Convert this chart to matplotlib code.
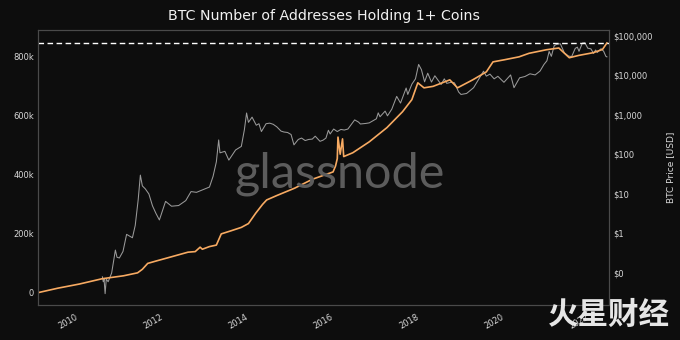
import numpy as np
import pandas as pd
import matplotlib
matplotlib.use("Agg")
import matplotlib.pyplot as plt
import matplotlib.dates as mdates
from matplotlib.ticker import FixedLocator, FuncFormatter

# addresses holding at least one BTC
addr_dates = ["2009-01-03", "2009-07-01", "2010-01-01", "2010-07-15", "2011-01-15",
              "2011-05-15", "2011-06-25", "2011-08-10", "2011-10-20", "2012-01-20",
              "2012-04-20", "2012-07-20", "2012-09-20", "2012-11-01", "2012-11-20",
              "2013-01-20", "2013-03-20", "2013-05-01", "2013-07-20", "2013-10-20",
              "2013-12-20", "2014-02-20", "2014-04-20", "2014-05-25", "2014-08-20",
              "2015-01-20", "2015-06-20", "2015-12-15", "2016-01-05", "2016-01-20",
              "2016-01-26", "2016-02-14", "2016-03-05", "2016-03-15", "2016-06-01",
              "2016-10-20", "2017-03-20", "2017-08-01", "2017-10-20",
              "2017-12-10", "2018-02-01", "2018-04-20", "2018-09-10", "2018-11-15",
              "2019-03-25", "2019-07-20", "2019-09-15", "2019-12-20", "2020-04-25",
              "2020-07-20", "2020-12-15", "2021-04-01", "2021-06-30", "2021-09-20",
              "2022-01-20", "2022-04-10", "2022-05-18"]
addr_count = [0, 16000, 30000, 48000, 58000,
              68000, 80000, 100000, 108000, 118000,
              128000, 138000, 140000, 155000, 148000,
              157000, 162000, 200000, 210000, 222000,
              235000, 270000, 300000, 315000, 330000,
              355000, 385000, 410000, 430000, 455000,
              528000, 470000, 522000, 462000, 475000,
              512000, 560000, 614000, 655000,
              712000, 695000, 700000, 722000, 695000,
              722000, 749000, 783000, 790000, 800000,
              812000, 824000, 830000, 797000, 805000,
              814000, 825000, 847000]

# BTC price in USD
price_dates = ["2010-07-18", "2010-07-25", "2010-08-01", "2010-08-10", "2010-08-20",
               "2010-09-05", "2010-10-05", "2010-11-06", "2010-11-20", "2010-12-10",
               "2011-01-10", "2011-02-10", "2011-03-10", "2011-04-01", "2011-04-25",
               "2011-05-20", "2011-06-08", "2011-06-25", "2011-07-20", "2011-08-20",
               "2011-09-20", "2011-10-20", "2011-11-18", "2012-01-10", "2012-03-01",
               "2012-05-01", "2012-07-01", "2012-08-15", "2012-10-01", "2012-12-01",
               "2013-01-20", "2013-02-20", "2013-03-20", "2013-04-09", "2013-04-20",
               "2013-06-01", "2013-07-05", "2013-09-01", "2013-10-20", "2013-11-15",
               "2013-12-04", "2013-12-20", "2014-01-20", "2014-02-25", "2014-03-20",
               "2014-04-10", "2014-05-20", "2014-06-20", "2014-07-20", "2014-08-20",
               "2014-09-25", "2014-10-20", "2014-11-20", "2014-12-20",
               "2015-01-14", "2015-02-20", "2015-03-20", "2015-04-20", "2015-05-20",
               "2015-06-20", "2015-07-15", "2015-08-25", "2015-09-20", "2015-10-15",
               "2015-11-05", "2015-11-20", "2015-12-20", "2016-01-20", "2016-02-20",
               "2016-03-20", "2016-04-20", "2016-06-17", "2016-07-20", "2016-08-05",
               "2016-09-20", "2016-10-20", "2016-12-20",
               "2017-01-05", "2017-01-20", "2017-03-05", "2017-03-25", "2017-05-01",
               "2017-06-12", "2017-07-15", "2017-09-01", "2017-09-15", "2017-10-20",
               "2017-11-20", "2017-12-17", "2018-01-10", "2018-02-06", "2018-03-05",
               "2018-04-06", "2018-05-05", "2018-06-28", "2018-07-25", "2018-08-15",
               "2018-09-20", "2018-10-20", "2018-11-25", "2018-12-15", "2019-02-01",
               "2019-04-02", "2019-05-15", "2019-06-26", "2019-07-20", "2019-08-20",
               "2019-09-25", "2019-10-27", "2019-12-18", "2020-02-13", "2020-03-13",
               "2020-04-30", "2020-06-15", "2020-07-28", "2020-09-10", "2020-10-22",
               "2020-11-25", "2020-12-20", "2021-01-08", "2021-01-27", "2021-02-21",
               "2021-03-13", "2021-04-14", "2021-05-19", "2021-06-22", "2021-07-20",
               "2021-08-20", "2021-09-07", "2021-09-21", "2021-10-20", "2021-11-10",
               "2021-12-05", "2022-01-01", "2022-01-24", "2022-02-10", "2022-02-24",
               "2022-03-29", "2022-04-20", "2022-05-09", "2022-05-18"]
price_usd = [0.08, 0.06, 0.07, 0.03, 0.07,
             0.06, 0.10, 0.38, 0.25, 0.24,
             0.35, 0.95, 0.85, 0.78, 1.60,
             7.0, 30.0, 16.0, 13.5, 10.0,
             5.0, 3.2, 2.2, 6.5, 4.9,
             5.1, 6.8, 11.5, 11.0, 13.0,
             15.0, 28.0, 65.0, 233.0, 110.0,
             120.0, 72.0, 130.0, 160.0, 420.0,
             1120.0, 650.0, 880.0, 550.0, 600.0,
             380.0, 600.0, 620.0, 580.0, 500.0,
             390.0, 370.0, 360.0, 320.0,
             175.0, 240.0, 260.0, 225.0, 240.0,
             245.0, 290.0, 215.0, 230.0, 260.0,
             410.0, 330.0, 440.0, 380.0, 430.0,
             415.0, 440.0, 750.0, 660.0, 590.0,
             610.0, 630.0, 800.0,
             1130.0, 900.0, 1250.0, 950.0, 1400.0,
             2950.0, 2000.0, 4800.0, 3300.0, 6000.0,
             8200.0, 19000.0, 14000.0, 6900.0, 11400.0,
             6800.0, 9800.0, 5900.0, 8200.0, 6300.0,
             6700.0, 6500.0, 3800.0, 3300.0, 3500.0,
             4900.0, 8000.0, 12800.0, 9600.0, 10800.0,
             8200.0, 9500.0, 6700.0, 10300.0, 4900.0,
             8700.0, 9400.0, 11000.0, 10300.0, 12900.0,
             19000.0, 23500.0, 40500.0, 30400.0, 57000.0,
             61000.0, 63500.0, 37000.0, 31000.0, 30000.0,
             48500.0, 52000.0, 40800.0, 66000.0, 67500.0,
             49000.0, 47000.0, 36000.0, 44000.0, 38000.0,
             47500.0, 41000.0, 30500.0, 29500.0]

addr_ath = max(addr_count)

bg = "#0d0d0d"
fig = plt.figure(figsize=(6.8, 3.4), dpi=100, facecolor=bg)
ax = fig.add_axes([38 / 680, 35 / 340, 571 / 680, 275 / 340])
ax2 = ax.twinx()
ax.set_zorder(ax2.get_zorder() + 1)
ax.patch.set_visible(False)
ax2.set_facecolor(bg)

x_addr = pd.to_datetime(addr_dates)
x_price = pd.to_datetime(price_dates)

ax2.plot(x_price, price_usd, color="#9a9a9a", linewidth=0.75)
ax.plot(x_addr, addr_count, color="#f7aa62", linewidth=1.2)
ax.axhline(addr_ath, color="white", linestyle=(0, (4, 2.5)), linewidth=1.0)

ax.set_xlim(pd.Timestamp("2009-01-12"), pd.Timestamp("2022-06-05"))
ax.set_ylim(-41000, 891000)
ax2.set_yscale("log")
ax2.set_ylim(10 ** -1.81, 10 ** 5.15)

ax.yaxis.set_major_locator(FixedLocator([0, 200000, 400000, 600000, 800000]))
ax.yaxis.set_major_formatter(FuncFormatter(lambda v, p: "0" if v == 0 else f"{int(v / 1000)}k"))
price_ticks = [0.1, 1, 10, 100, 1000, 10000, 100000]
price_labels = ["$0", "$1", "$10", "$100", "$1,000", "$10,000", "$100,000"]
ax2.set_yticks(price_ticks, labels=price_labels)
ax2.yaxis.set_minor_locator(FixedLocator([]))

ax.xaxis.set_major_locator(mdates.YearLocator(2))
ax.xaxis.set_major_formatter(mdates.DateFormatter("%Y"))
for lbl in ax.get_xticklabels():
    lbl.set_rotation(30)
    lbl.set_ha("right")

tick_col = "#d8d8d8"
ax.tick_params(axis="both", length=0, labelsize=6, colors=tick_col, pad=3)
ax.tick_params(axis="x", pad=5)
ax2.tick_params(axis="y", length=0, labelsize=6, colors=tick_col, pad=3)
for a in (ax, ax2):
    for s in a.spines.values():
        s.set_color("#4a4a4a")
        s.set_linewidth(0.8)

ax2.set_ylabel("BTC Price [USD]", color=tick_col, fontsize=6.5, labelpad=10)
ax.set_title("BTC Number of Addresses Holding 1+ Coins", color="#f2f2f2", fontsize=10.2, pad=7)

# watermarks
fig.text(0.5, 0.49, "glassnode", color="#5c5c5c", fontsize=35, ha="center", va="center",
         family="Lato", zorder=10)
fig.text(0.896, 0.075, "火星财经", color="#e6e6e6", fontsize=22, ha="center", va="center",
         family=["Noto Sans CJK SC", "DejaVu Sans"], fontweight="bold", zorder=10)

fig.savefig("out.png", dpi=100, facecolor=bg)
